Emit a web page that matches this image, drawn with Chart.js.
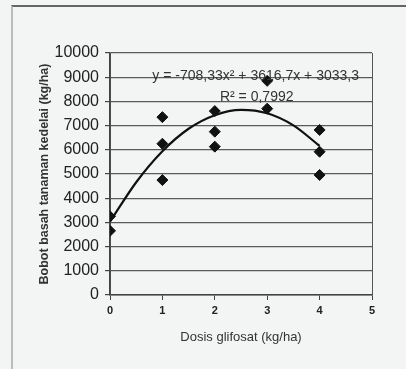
<!DOCTYPE html>
<html>
<head>
<meta charset="utf-8">
<script src="https://cdn.jsdelivr.net/npm/chart.js@4/dist/chart.umd.min.js"></script>
<style>
  html, body { margin: 0; padding: 0; background: #f3f4f4; }
  #wrap { position: relative; width: 406px; height: 369px; overflow: hidden; }
  #frame { position: absolute; left: 11px; top: 5px; width: 400px; height: 370px;
           border-top: 2px solid #666; border-left: 2px solid #bbb; }
  canvas { position: absolute; left: 0; top: 0; }
</style>
</head>
<body>
<div id="wrap">
  <div id="frame"></div>
  <canvas id="chart" width="406" height="369"></canvas>
</div>
<script>
// observed dose / weight pairs
const doses = [0, 0, 1, 1, 1, 2, 2, 2, 3, 3, 4, 4, 4];
const weights = [3250, 2650, 7350, 6250, 4750, 7600, 6750, 6130, 8850, 7700, 6820, 5920, 4960];

// points
const trendX = [0, 0.5, 1, 1.5, 2, 2.5, 3, 3.5, 4];
const trendY = [3030, 4660, 5940, 6870, 7430, 7650, 7510, 7010, 6160];

const yTicks = [0, 1000, 2000, 3000, 4000, 5000, 6000, 7000, 8000, 9000, 10000];
const equation = 'y = -708,33x² + 3616,7x + 3033,3';
const rSquared = 'R² = 0,7992';

const labelPlugin = {
  id: 'trendLabel',
  afterDatasetsDraw(chart) {
    const { ctx, scales: { x, y } } = chart;
    ctx.save();
    ctx.fillStyle = '#333';
    ctx.font = '14px "Liberation Sans", Arial, sans-serif';
    ctx.textAlign = 'center';
    ctx.textBaseline = 'middle';
    ctx.fillText(equation, x.getPixelForValue(2.78), y.getPixelForValue(9050));
    ctx.fillText(rSquared, x.getPixelForValue(2.8), y.getPixelForValue(8180));
    ctx.restore();
  },
};

new Chart(document.getElementById('chart'), {
  type: 'scatter',
  data: {
    datasets: [
      {
        label: 'trend',
        data: trendX.map((v, i) => ({ x: v, y: trendY[i] })),
        showLine: true,
        borderColor: '#111',
        borderWidth: 2.2,
        pointRadius: 0,
        tension: 0.4,
        cubicInterpolationMode: 'monotone',
        order: 2,
      },
      {
        label: 'data',
        data: doses.map((v, i) => ({ x: v, y: weights[i] })),
        pointStyle: 'rectRot',
        pointRadius: 5.5,
        backgroundColor: '#111',
        borderColor: '#111',
        borderWidth: 1,
        order: 1,
      },
    ],
  },
  options: {
    responsive: false,
    animation: false,
    layout: { padding: { left: 0, right: 34, top: 53, bottom: 0 } },
    plugins: { legend: { display: false }, tooltip: { enabled: false } },
    scales: {
      x: {
        type: 'linear',
        min: 0,
        max: 5,
        afterFit: scale => { scale.height = 74; },
        ticks: {
          stepSize: 1,
          padding: 4,
          color: '#222',
          font: { family: '"Liberation Sans", Arial, sans-serif', size: 11, weight: 'bold' },
        },
        grid: {
          color: ctx => (ctx.tick && (ctx.tick.value === 0 || ctx.tick.value === 5)) ? '#555' : 'rgba(0,0,0,0)',
          tickColor: '#444',
          tickLength: 5,
          lineWidth: 1,
        },
        border: { display: true, color: '#444', width: 1.5 },
        title: {
          display: true,
          text: 'Dosis glifosat (kg/ha)',
          color: '#333',
          padding: { top: 0, bottom: 24 },
          font: { family: '"Liberation Sans", Arial, sans-serif', size: 13 },
        },
      },
      y: {
        min: 0,
        max: 10000,
        afterFit: scale => { scale.width = 110; },
        afterBuildTicks: scale => { scale.ticks = yTicks.map(v => ({ value: v })); },
        ticks: {
          padding: 6,
          color: '#222',
          callback: value => String(value),
          font: { family: '"Liberation Sans", Arial, sans-serif', size: 16 },
        },
        grid: {
          color: '#5a5a5a',
          tickColor: '#444',
          tickLength: 5,
          lineWidth: 1.2,
        },
        border: { display: true, color: '#444', width: 1.5 },
        title: {
          display: true,
          text: 'Bobot basah tanaman kedelai (kg/ha)',
          color: '#333',
          padding: { top: 37, bottom: 0 },
          font: { family: '"Liberation Sans", Arial, sans-serif', size: 12.5, weight: 'bold' },
        },
      },
    },
  },
  plugins: [labelPlugin],
});
</script>
</body>
</html>
